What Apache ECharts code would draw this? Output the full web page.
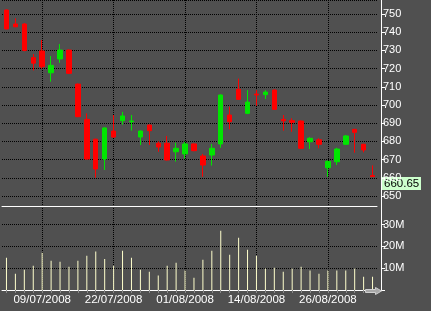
<!DOCTYPE html>
<html>
<head>
<meta charset="utf-8">
<script src="https://cdn.jsdelivr.net/npm/echarts@6/dist/echarts.min.js"></script>
<style>
html,body{margin:0;padding:0;background:#505050;}
#c{width:431px;height:311px;}
</style>
</head>
<body>
<div id="c"></div>
<script>
const dates = ['03/07/2008','04/07/2008','07/07/2008','08/07/2008','09/07/2008','10/07/2008','11/07/2008','14/07/2008','15/07/2008','16/07/2008','17/07/2008','18/07/2008','22/07/2008','23/07/2008','24/07/2008','25/07/2008','28/07/2008','29/07/2008','30/07/2008','31/07/2008','01/08/2008','04/08/2008','05/08/2008','06/08/2008','07/08/2008','08/08/2008','11/08/2008','12/08/2008','14/08/2008','15/08/2008','18/08/2008','19/08/2008','20/08/2008','21/08/2008','22/08/2008','25/08/2008','26/08/2008','27/08/2008','28/08/2008','29/08/2008','01/09/2008','02/09/2008'];
const opens  = [752.2,744.5,744.5,726.0,729.7,717.7,725.3,730.2,711.5,692.1,681.2,670.3,685.7,691.4,690.8,682.4,689.0,679.0,679.0,674.3,673.1,678.6,672.0,672.5,678.6,694.5,708.6,695.4,706.0,705.7,708.2,692.1,691.4,691.2,679.8,680.9,665.5,668.8,678.4,686.6,678.4,661.2];
const closes = [741.8,743.0,730.0,723.0,721.0,721.8,730.2,717.4,693.6,670.3,664.8,687.4,682.4,694.0,691.2,685.7,685.9,676.9,669.8,676.2,678.6,674.9,667.0,676.2,705.5,690.8,703.1,701.6,705.5,707.1,697.6,691.3,690.5,676.2,681.7,678.4,669.0,675.8,683.0,685.0,675.3,660.65];
const lows   = [741.5,742.8,729.5,719.0,720.0,712.8,723.2,717.0,693.3,670.0,660.1,664.3,682.0,689.2,685.9,678.0,678.0,674.3,669.5,668.9,670.5,674.6,660.6,666.7,676.5,686.6,702.8,695.0,699.6,703.3,697.3,685.9,685.3,675.9,675.8,676.2,660.6,667.0,678.0,673.8,674.0,660.5];
const highs  = [752.5,747.6,745.0,728.0,735.7,726.9,733.5,730.5,711.8,695.4,681.5,687.7,694.5,696.2,694.5,686.0,689.3,680.0,683.0,679.3,679.8,678.9,673.1,678.6,705.8,699.1,714.5,708.2,708.2,708.2,708.5,694.5,692.7,691.5,682.3,681.7,669.5,676.5,683.5,686.9,678.7,666.8];
const volumesM = [14.8,7.5,9.3,11.1,17.1,13.4,13.0,10.6,13.4,15.7,17.6,14.2,11.1,18.0,14.8,9.3,8.4,6.6,11.1,12.5,8.9,5.6,13.9,18.0,27.2,16.2,24.0,18.5,15.7,9.8,10.2,8.4,9.8,10.7,8.9,7.5,8.9,8.9,8.9,9.8,6.1,6.1];
const lastPrice = 660.65;

const candles = dates.map((d, i) => [opens[i], closes[i], lows[i], highs[i]]);

const FONT = 'Liberation Sans';
const dotted = { color: '#000', type: 'dotted', width: 1 };
const labelEvery = (i) => i % 8 === 4;

const chart = echarts.init(document.getElementById('c'), null, { renderer: 'canvas' });
chart.setOption({
  animation: false,
  backgroundColor: '#505050',
  textStyle: { fontFamily: FONT },
  grid: [
    { left: 2, width: 375, top: 0, height: 206 },
    { left: 2, width: 375, top: 206, height: 84 }
  ],
  xAxis: [
    {
      type: 'category', gridIndex: 0, data: dates, boundaryGap: true,
      axisLine: { show: true, lineStyle: { color: '#fff', width: 1 } },
      axisTick: { show: false },
      axisLabel: { show: false },
      splitLine: { show: true, interval: labelEvery, alignWithLabel: true, lineStyle: dotted }
    },
    {
      type: 'category', gridIndex: 1, data: dates, boundaryGap: true,
      axisLine: { show: true, lineStyle: { color: '#fff', width: 1 } },
      axisTick: { show: true, alignWithLabel: true, length: 3, interval: 0, lineStyle: { color: '#8a8a8a' } },
      axisLabel: { show: true, interval: labelEvery, color: '#fff', fontSize: 11.5, fontFamily: FONT, margin: 4 },
      splitLine: { show: true, interval: labelEvery, alignWithLabel: true, lineStyle: dotted }
    }
  ],
  yAxis: [
    {
      type: 'value', gridIndex: 0, position: 'right', offset: 4,
      min: 644.5, max: 757.7, splitNumber: 11, scale: true,
      axisLine: { show: true, lineStyle: { color: '#fff', width: 1 } },
      axisTick: { show: true, length: 4, lineStyle: { color: '#fff' } },
      axisLabel: { color: '#fff', fontSize: 11, fontFamily: FONT, margin: 2, showMinLabel: false, showMaxLabel: false },
      splitLine: { show: true, lineStyle: dotted }
    },
    {
      type: 'value', gridIndex: 1, position: 'right', offset: 4,
      min: 0, max: 38.5, splitNumber: 4,
      axisLine: { show: true, lineStyle: { color: '#fff', width: 1 } },
      axisTick: { show: true, length: 4, lineStyle: { color: '#fff' } },
      axisLabel: { color: '#fff', fontSize: 11, fontFamily: FONT, margin: 2, showMaxLabel: false,
        formatter: (v) => v === 0 ? '' : v + 'M' },
      splitLine: { show: true, lineStyle: dotted }
    }
  ],
  series: [
    {
      type: 'candlestick', xAxisIndex: 0, yAxisIndex: 0, data: candles,
      barWidth: 5,
      itemStyle: { color: '#00e600', color0: '#ff0000', borderColor: '#00e600', borderColor0: '#ff0000', borderWidth: 1 }
    },
    {
      type: 'bar', xAxisIndex: 1, yAxisIndex: 1, data: volumesM,
      barWidth: 1, itemStyle: { color: '#ffffcc' }
    }
  ]
});

// last-price tag, placed through the library's own price scale
const py = chart.convertToPixel({ yAxisIndex: 0 }, lastPrice);
const axisX = chart.convertToPixel({ xAxisIndex: 0 }, dates[dates.length - 1]) + 375 / 42 / 2 + 4;
chart.setOption({
  graphic: [
    {
      type: 'group', left: Math.round(axisX), top: Math.round(py), z: 100,
      children: [
        { type: 'rect', shape: { x: 0, y: 0, width: 40, height: 13 }, style: { fill: '#ccffcc' } },
        { type: 'text', x: 3, y: 1, style: { text: lastPrice.toFixed(2), fill: '#000', font: '11.5px "Liberation Sans"' } }
      ]
    },
    {
      type: 'polygon', left: 365, top: 287, z: 100,
      shape: { points: [[0, 2], [10, 2], [10, 0], [16, 3.5], [10, 7], [10, 5], [0, 5]] },
      style: { fill: '#a8a8a8', stroke: '#d0d0d0', lineWidth: 1 }
    }
  ]
});
</script>
</body>
</html>
